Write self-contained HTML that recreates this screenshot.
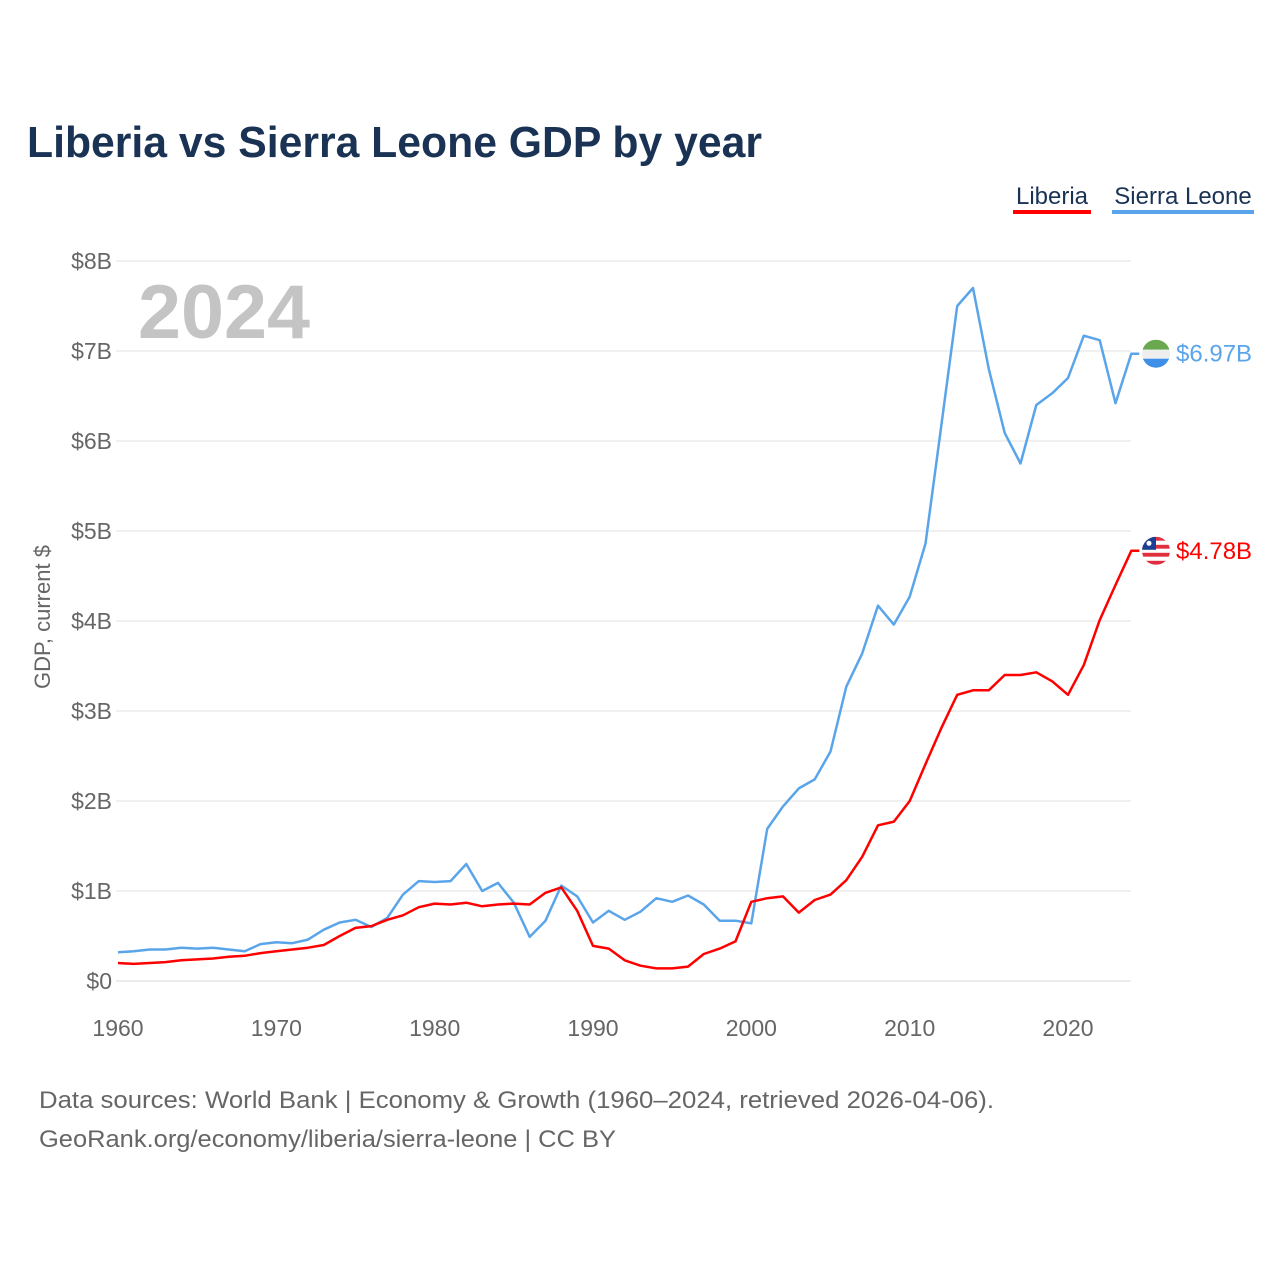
<!DOCTYPE html>
<html><head><meta charset="utf-8"><style>
html,body{margin:0;padding:0;background:#fff;}
body{width:1280px;height:1280px;overflow:hidden;font-family:"Liberation Sans",sans-serif;}
</style></head><body>
<svg id="chart" width="1280" height="1280" xmlns="http://www.w3.org/2000/svg" font-family="Liberation Sans, sans-serif">
<text x="27" y="157" font-size="44" font-weight="bold" fill="#1a3355" textLength="735" lengthAdjust="spacingAndGlyphs">Liberia vs Sierra Leone GDP by year</text>
<g>
  <g>
    <text x="1052" y="204" font-size="24" fill="#1a3355" text-anchor="middle">Liberia</text>
    <rect x="1013" y="210" width="78" height="4" fill="#ff0000"/>
  </g>
  <g>
    <text x="1183" y="204" font-size="24" fill="#1a3355" text-anchor="middle">Sierra Leone</text>
    <rect x="1112" y="210" width="142" height="4" fill="#5aa5ea"/>
  </g>
</g>
<text x="138" y="338" font-size="76" font-weight="bold" fill="#c4c4c4" textLength="172" lengthAdjust="spacingAndGlyphs">2024</text>
<text transform="translate(50,617) rotate(-90)" font-size="22" fill="#666" text-anchor="middle">GDP, current $</text>
<g id="grid"></g>
<g id="yticks"></g>
<g id="xticks"></g>
<g id="lines"></g>
<g id="ends"></g>
<text x="39" y="1108" font-size="24" fill="#666" textLength="955" lengthAdjust="spacingAndGlyphs">Data sources: World Bank | Economy &amp; Growth (1960–2024, retrieved 2026-04-06).</text>
<text x="39" y="1147" font-size="24" fill="#666" textLength="577" lengthAdjust="spacingAndGlyphs">GeoRank.org/economy/liberia/sierra-leone | CC BY</text>
</svg>
<script>
const years = [];
for (let y = 1960; y <= 2024; y++) years.push(y);
const liberia = [0.20,0.19,0.20,0.21,0.23,0.24,0.25,0.27,0.28,0.31,0.33,0.35,0.37,0.40,0.50,0.59,0.61,0.68,0.73,0.82,0.86,0.85,0.87,0.83,0.85,0.86,0.85,0.98,1.04,0.78,0.39,0.36,0.23,0.17,0.14,0.14,0.16,0.30,0.36,0.44,0.88,0.92,0.94,0.76,0.90,0.96,1.12,1.38,1.73,1.77,2.00,2.41,2.81,3.18,3.23,3.23,3.40,3.40,3.43,3.33,3.18,3.51,4.01,4.40,4.78];
const sierraLeone = [0.32,0.33,0.35,0.35,0.37,0.36,0.37,0.35,0.33,0.41,0.43,0.42,0.46,0.57,0.65,0.68,0.60,0.70,0.96,1.11,1.10,1.11,1.30,1.00,1.09,0.87,0.49,0.67,1.06,0.94,0.65,0.78,0.68,0.77,0.92,0.88,0.95,0.85,0.67,0.67,0.64,1.69,1.94,2.14,2.24,2.55,3.27,3.64,4.17,3.96,4.27,4.86,6.17,7.50,7.70,6.80,6.09,5.75,6.40,6.53,6.70,7.17,7.12,6.42,6.97];
const yTicks = [0,1,2,3,4,5,6,7,8];
const yTickLabels = ["$0","$1B","$2B","$3B","$4B","$5B","$6B","$7B","$8B"];
const xTicks = [1960,1970,1980,1990,2000,2010,2020];

const NS = "http://www.w3.org/2000/svg";
const xS = y => 118 + (y - 1960) * (950 / 60);
const yS = v => 981 - v * 90;
function mk(tag, attrs, parent) {
  const e = document.createElementNS(NS, tag);
  for (const k in attrs) e.setAttribute(k, attrs[k]);
  parent.appendChild(e);
  return e;
}
const grid = document.getElementById('grid'), yt = document.getElementById('yticks'),
      xt = document.getElementById('xticks'), lines = document.getElementById('lines'),
      ends = document.getElementById('ends');
yTicks.forEach((v, i) => {
  const l = mk('line', {x1: 116, x2: 1131, y1: yS(v), y2: yS(v), stroke: v === 0 ? '#e6e6e6' : '#ececec', 'stroke-width': 1.5}, grid);
  
  
  const t = mk('text', {x: 112, y: yS(v) + 8, 'font-size': 23, fill: '#666', 'text-anchor': 'end'}, yt);
  t.textContent = yTickLabels[i];
  
  
});
xTicks.forEach(y => {
  const t = mk('text', {x: xS(y), y: 1036, 'font-size': 23, fill: '#666', 'text-anchor': 'middle'}, xt);
  t.textContent = y;
  
  
});
function drawLine(vals, color, name) {
  let d = vals.map((v, i) => (i ? 'L' : 'M') + xS(years[i]).toFixed(1) + ' ' + yS(v).toFixed(1)).join(' ');
  d += ' L' + (xS(years[years.length - 1]) + 8).toFixed(1) + ' ' + yS(vals[vals.length - 1]).toFixed(1);
  const p = mk('path', {d: d, fill: 'none', stroke: color, 'stroke-width': 2.5, 'stroke-linejoin': 'round'}, lines);
  
  
}
drawLine(sierraLeone, '#5aa5ea', 'line-sierra-leone');
drawLine(liberia, '#ff0000', 'line-liberia');

function endLabel(vals, color, name, flag) {
  const v = vals[vals.length - 1], cy = yS(v), cx = 1156;
  const g = mk('g', {}, ends);
  
  
  const cid = 'clip-' + name;
  const cp = mk('clipPath', {id: cid}, g);
  mk('circle', {cx: cx, cy: cy, r: 14}, cp);
  const fg = mk('g', {'clip-path': 'url(#' + cid + ')'}, g);
  if (flag === 'sl') {
    mk('rect', {x: cx - 14, y: cy - 14, width: 28, height: 10, fill: '#6aa84f'}, fg);
    mk('rect', {x: cx - 14, y: cy - 4, width: 28, height: 9, fill: '#eeeeee'}, fg);
    mk('rect', {x: cx - 14, y: cy + 5, width: 28, height: 10, fill: '#3d8fe8'}, fg);
  } else {
    for (let i = 0; i < 7; i++) mk('rect', {x: cx - 14, y: cy - 14 + i * 4, width: 28, height: 4, fill: i % 2 ? '#fff' : '#e03040'}, fg);
    mk('rect', {x: cx - 14, y: cy - 14, width: 14, height: 13, fill: '#1c3f94'}, fg);
    mk('circle', {cx: cx - 7, cy: cy - 7.5, r: 2.5, fill: '#fff'}, fg);
  }
  const t = mk('text', {x: 1176, y: cy + 8, 'font-size': 24, fill: color}, g);
  t.textContent = '$' + v.toFixed(2) + 'B';
}
endLabel(sierraLeone, '#5aa5ea', 'end-label-sierra-leone', 'sl');
endLabel(liberia, '#ff0000', 'end-label-liberia', 'lr');
</script>
</body></html>
